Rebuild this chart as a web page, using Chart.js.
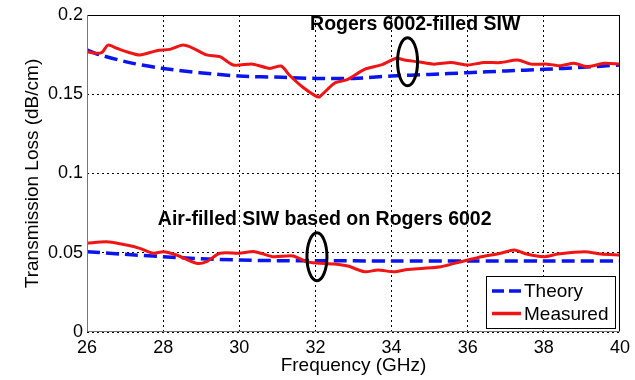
<!DOCTYPE html>
<html>

<head>
    <meta charset="UTF-8">
    <title>Transmission Loss</title>
    <style>
        body {
            margin: 0;
            background: #fff;
        }

        #wrap {
            width: 635px;
            height: 380px;
        }
    </style>
</head>

<body>
    <div id="wrap"><canvas id="chart" width="635" height="380"></canvas></div>

    <script src="https://cdn.jsdelivr.net/npm/chart.js"></script>
    <script>
        // Rogers 6002-filled SIW (upper pair)
        const rogersMeasFreq = [26, 26.25, 26.4, 26.55, 26.78, 27.04, 27.39, 27.83, 28.18, 28.52, 28.79, 29.14, 29.49, 29.84, 30.36, 30.8, 31.1, 31.32, 31.67, 32.0, 32.11, 32.5, 32.85, 33.29, 33.73, 34.12, 34.34, 34.69, 35.12, 35.56, 36.0, 36.43, 36.87, 37.31, 37.66, 38.09, 38.44, 38.79, 39.14, 39.58, 40];
        const rogersMeasLoss = [0.1768, 0.1758, 0.1765, 0.181, 0.179, 0.1768, 0.1748, 0.1775, 0.1783, 0.181, 0.179, 0.1748, 0.1737, 0.1685, 0.169, 0.1663, 0.1678, 0.162, 0.1544, 0.149, 0.1485, 0.157, 0.1594, 0.1657, 0.1685, 0.1727, 0.1716, 0.1705, 0.169, 0.170, 0.1685, 0.170, 0.170, 0.1716, 0.169, 0.169, 0.168, 0.1695, 0.1674, 0.1695, 0.169];
        const rogersTheoryFreq = [26, 26.34, 27.21, 28, 28.96, 30, 31.14, 32, 33, 34, 35, 36, 37, 38, 39, 40];
        const rogersTheoryLoss = [0.178, 0.1748, 0.1695, 0.1663, 0.1636, 0.1615, 0.1607, 0.160, 0.160, 0.1615, 0.1625, 0.1636, 0.1647, 0.1657, 0.167, 0.1685];

        // Air-filled SIW based on Rogers 6002 (lower pair)
        const airMeasFreq = [26, 26.51, 27.04, 27.39, 27.74, 28, 28.35, 28.88, 29.14, 29.49, 30, 30.4, 30.88, 31.41, 31.76, 32.02, 32.5, 32.85, 33.29, 33.64, 34.07, 34.42, 34.86, 35.3, 35.65, 36, 36.36, 36.87, 37.22, 37.57, 38.0, 38.37, 39.07, 39.5, 40];
        const airMeasLoss = [0.056, 0.057, 0.0549, 0.0528, 0.0497, 0.0507, 0.0486, 0.0433, 0.0444, 0.0497, 0.0497, 0.0507, 0.0475, 0.048, 0.0444, 0.0435, 0.0429, 0.0416, 0.038, 0.0391, 0.038, 0.0395, 0.0402, 0.0412, 0.0433, 0.0454, 0.0475, 0.0497, 0.0517, 0.049, 0.0475, 0.0492, 0.0507, 0.0492, 0.0486];
        const airTheoryFreq = [26, 27, 28, 29, 30, 31, 32, 34, 36, 38, 40];
        const airTheoryLoss = [0.0507, 0.049, 0.0475, 0.0462, 0.0454, 0.045, 0.045, 0.0448, 0.0448, 0.0448, 0.0448];

        const freqTicks = [26, 28, 30, 32, 34, 36, 38, 40];
        const lossTicks = [0, 0.05, 0.1, 0.15, 0.2];

        // text labels with the ellipse that marks each curve pair
        const notes = [
            { text: "Rogers 6002-filled SIW", x: 31.86, y: 0.1937, ex: 34.42, ey: 0.1705 },
            { text: "Air-filled SIW based on Rogers 6002", x: 27.86, y: 0.0707, ex: 32.04, ey: 0.0475 }
        ];

        const FONT = "Arial, 'Liberation Sans', sans-serif";
        const BLUE = "#0a14f0";
        const RED = "#f01414";
        const DASH = [13, 6];

        function pts(xs, ys) {
            return xs.map((x, i) => ({ x: x, y: ys[i] }));
        }

        const overlay = {
            id: "overlay",
            afterDraw(chart) {
                const ctx = chart.ctx;
                const a = chart.chartArea;
                const xs = chart.scales.x;
                const ys = chart.scales.y;

                // axes box
                ctx.save();
                ctx.lineWidth = 1;
                ctx.strokeStyle = "#000";
                ctx.beginPath();
                ctx.moveTo(a.left, a.top + 0.5);
                ctx.lineTo(a.right - 0.5, a.top + 0.5);
                ctx.lineTo(a.right - 0.5, a.bottom);
                ctx.stroke();
                ctx.strokeStyle = "#777";
                ctx.beginPath();
                ctx.moveTo(a.left + 0.5, a.top);
                ctx.lineTo(a.left + 0.5, a.bottom - 0.5);
                ctx.lineTo(a.right, a.bottom - 0.5);
                ctx.stroke();

                // annotations
                ctx.fillStyle = "#000";
                ctx.font = "bold 19.5px " + FONT;
                ctx.textBaseline = "middle";
                ctx.textAlign = "left";
                ctx.lineWidth = 3;
                ctx.strokeStyle = "#000";
                notes.forEach(n => {
                    ctx.fillText(n.text, xs.getPixelForValue(n.x), ys.getPixelForValue(n.y));
                    const cx = xs.getPixelForValue(n.ex);
                    const cy = ys.getPixelForValue(n.ey);
                    ctx.beginPath();
                    ctx.ellipse(cx, cy, 10, 24, 0, 0, Math.PI * 2);
                    ctx.stroke();
                });

                // legend
                const bw = 129, bh = 52;
                const bx = a.right - 5 - bw;
                const by = a.bottom - 4 - bh;
                ctx.fillStyle = "#fff";
                ctx.fillRect(bx, by, bw, bh);
                ctx.lineWidth = 1;
                ctx.strokeStyle = "#000";
                ctx.strokeRect(bx + 0.5, by + 0.5, bw, bh);
                const items = [
                    { label: "Theory", color: BLUE, dash: [12, 5] },
                    { label: "Measured", color: RED, dash: [] }
                ];
                ctx.font = "19px " + FONT;
                items.forEach((it, i) => {
                    const ly = by + 15 + i * 22.5;
                    ctx.save();
                    ctx.lineWidth = 3.5;
                    ctx.strokeStyle = it.color;
                    ctx.setLineDash(it.dash);
                    ctx.beginPath();
                    ctx.moveTo(bx + 6, ly);
                    ctx.lineTo(bx + 35, ly);
                    ctx.stroke();
                    ctx.restore();
                    ctx.fillStyle = "#000";
                    ctx.fillText(it.label, bx + 38, ly + 1);
                });
                ctx.restore();
            }
        };

        const measStyle = {
            borderColor: RED,
            borderWidth: 3,
            pointRadius: 0,
            tension: 0.25,
            fill: false
        };
        const theoryStyle = {
            borderColor: BLUE,
            borderWidth: 3.5,
            borderDash: DASH,
            pointRadius: 0,
            tension: 0.3,
            fill: false
        };

        new Chart(document.getElementById("chart").getContext("2d"), {
            type: "line",
            data: {
                datasets: [
                    Object.assign({ label: "Measured", data: pts(rogersMeasFreq, rogersMeasLoss) }, measStyle),
                    Object.assign({ label: "Measured", data: pts(airMeasFreq, airMeasLoss) }, measStyle),
                    Object.assign({ label: "Theory", data: pts(rogersTheoryFreq, rogersTheoryLoss) }, theoryStyle),
                    Object.assign({ label: "Theory", data: pts(airTheoryFreq, airTheoryLoss) }, theoryStyle)
                ]
            },
            options: {
                responsive: false,
                animation: false,
                layout: { padding: { top: 15, right: 14, left: 0, bottom: 0 } },
                plugins: {
                    legend: { display: false },
                    tooltip: { enabled: false }
                },
                scales: {
                    x: {
                        type: "linear",
                        min: 26,
                        max: 40,
                        afterBuildTicks: s => { s.ticks = freqTicks.map(v => ({ value: v })); },
                        afterFit: s => { s.height = 48; },
                        ticks: { color: "#000", font: { family: FONT, size: 18 }, padding: 5, maxRotation: 0 },
                        grid: { color: "#000", lineWidth: 1, drawTicks: false },
                        border: { display: false, dash: [2, 3] },
                        title: { display: true, text: "Frequency (GHz)", color: "#000", font: { family: FONT, size: 19 }, padding: { top: 0, bottom: 3 } }
                    },
                    y: {
                        min: 0,
                        max: 0.2,
                        afterBuildTicks: s => { s.ticks = lossTicks.map(v => ({ value: v })); },
                        afterFit: s => { s.width = 87; },
                        ticks: { color: "#000", font: { family: FONT, size: 18 }, padding: 4, callback: v => String(+v.toFixed(2)) },
                        grid: { color: "#000", lineWidth: 1, drawTicks: false },
                        border: { display: false, dash: [2, 3] },
                        title: { display: true, text: "Transmission Loss (dB/cm)", color: "#000", font: { family: FONT, size: 19 }, padding: { top: 21, bottom: 0 } }
                    }
                }
            },
            plugins: [overlay]
        });
    </script>
</body>

</html>
